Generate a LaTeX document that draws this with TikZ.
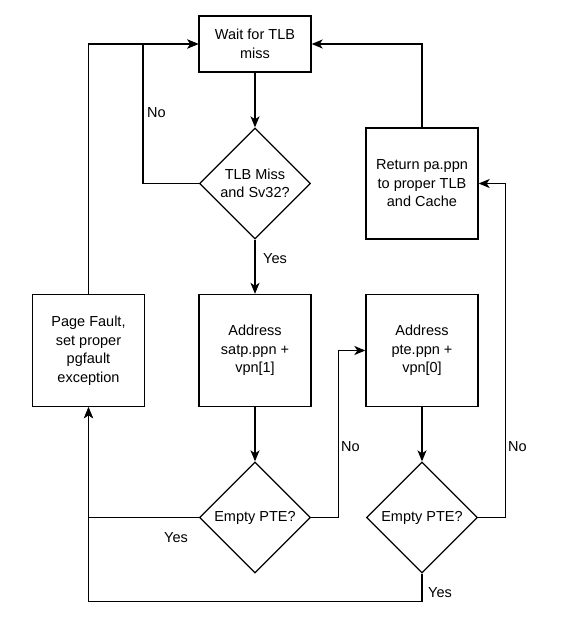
\documentclass[tikz,border=0pt]{standalone}
\usepackage{fontspec}
\setmainfont{Liberation Sans}
\usetikzlibrary{arrows.meta,shapes.geometric}
\begin{document}
\begin{tikzpicture}[x=1pt,y=-1pt,
  txt/.style={font=\fontsize{14.5}{18.5}\selectfont},
  box/.style={draw,line width=1.3pt,fill=white,minimum width=112pt,minimum height=112pt,inner sep=0pt,align=center,txt},
  dia/.style={draw,line width=1.3pt,fill=white,shape=diamond,minimum width=111pt,minimum height=111pt,inner sep=0pt},
  lbl/.style={anchor=west,inner sep=0pt,txt},
  conn/.style={line width=1.3pt,-{Stealth[length=11pt,width=9pt,inset=3pt]}},
  wire/.style={line width=1.3pt}]
\fill[white] (0,0) rectangle (561,642);
\useasboundingbox (0,0) rectangle (561,642);
% nodes
\node[box,minimum height=56pt] (wait) at (255,44) {Wait for TLB\\miss};
\node[dia] (d1) at (255,183.5) {};
\node[txt,align=center,inner sep=0pt] (d1t) at (d1) {TLB Miss\\and Sv32?};
\node[box,minimum height=111pt] (ret) at (422,183.5) {Return pa.ppn\\to proper TLB\\and Cache};
\node[box] (pf) at (88.5,350.5) {Page Fault,\\set proper\\pgfault\\exception};
\node[box] (satp) at (255,350.5) {Address\\satp.ppn +\\vpn[1]};
\node[box] (pte) at (422,350.5) {Address\\pte.ppn +\\vpn[0]};
\node[dia] (e1) at (255,517.5) {};
\node[txt,inner sep=0pt] (e1t) at (e1) {Empty PTE?};
\node[dia] (e2) at (422,517.5) {};
\node[txt,inner sep=0pt] (e2t) at (e2) {Empty PTE?};
% connectors
\draw[conn] (wait) -- (d1);
\draw[conn] (d1.west) -- ++(-56,0) |- (wait.west);
\draw[conn] (d1) -- (satp);
\draw[conn] (satp) -- (e1);
\draw[conn] (e1.east) -- ++(27,0) |- (pte.west);
\draw[conn] (e1.west) -| (pf.south);
\draw[conn] (pte) -- (e2);
\draw[conn] (e2.east) -- ++(27.5,0) |- (ret.east);
\draw[conn] (e2.south) -- ++(0,28) -| (pf.south);
\draw[conn] (pf.north) |- (wait.west);
\draw[conn] (ret.north) |- (wait.east);
% labels
\node[lbl] (l1) at (147,113) {No};
\node[lbl] (l2) at (263,259) {Yes};
\node[lbl] (l3) at (341,447) {No};
\node[lbl] (l4) at (508,447) {No};
\node[lbl] (l5) at (164,538) {Yes};
\node[lbl] (l6) at (428,593) {Yes};
\end{tikzpicture}
\end{document}
